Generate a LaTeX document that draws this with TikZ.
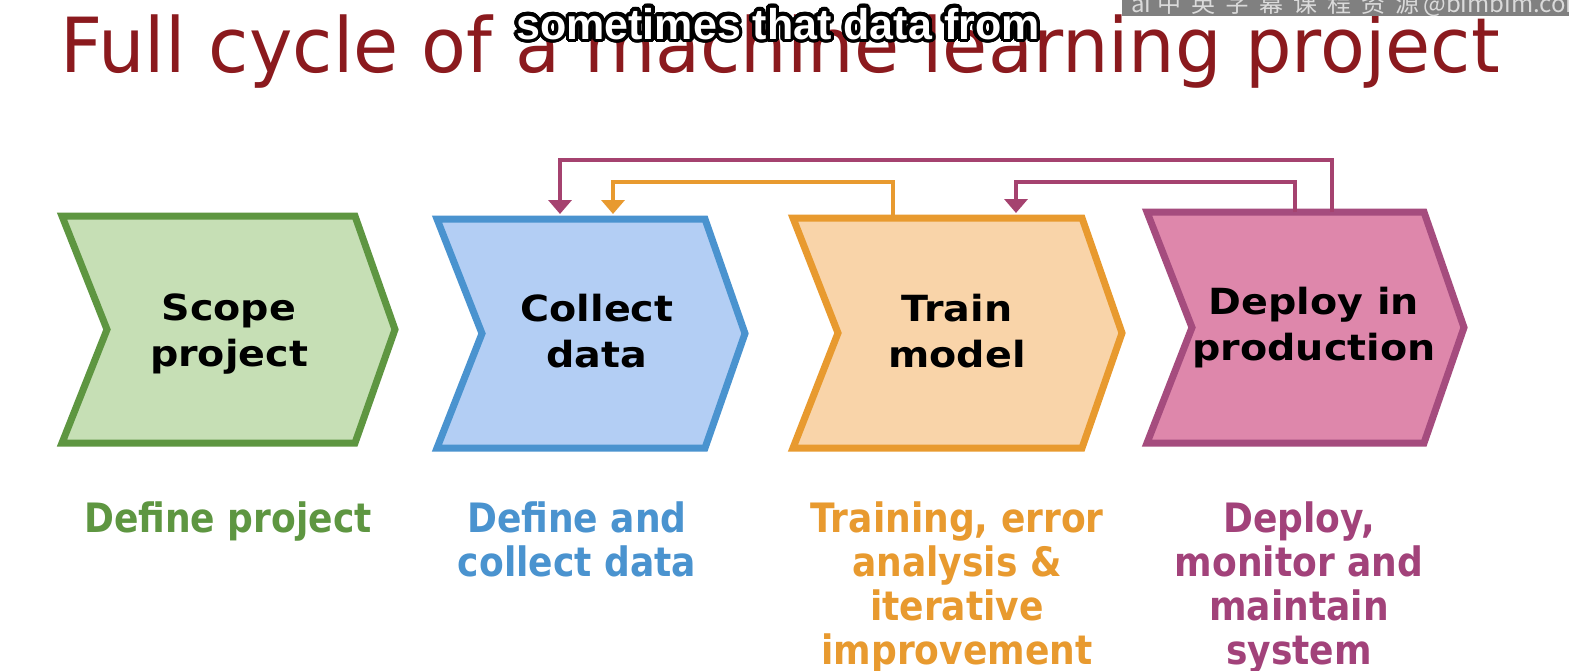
\documentclass[tikz,border=0pt]{standalone}
\usepackage{fontspec}
\usepackage{contour}
\setmainfont{DejaVu Sans}
\newfontfamily\titlefont{DejaVu Sans}[FakeStretch=0.965]
\newfontfamily\stagefont{DejaVu Sans}[FakeStretch=1.1]
\newfontfamily\notefont{DejaVu Sans}[FakeStretch=0.89]
\newfontfamily\capfont{Liberation Sans}
\newfontfamily\cjkfont{Noto Sans CJK SC}
\usetikzlibrary{arrows.meta,calc}

\definecolor{titlered}{HTML}{8B1A1E}
\definecolor{greenline}{HTML}{5E9641}
\definecolor{greenfill}{HTML}{C6DFB5}
\definecolor{blueline}{HTML}{4A93CF}
\definecolor{bluefill}{HTML}{B3CEF4}
\definecolor{orangeline}{HTML}{E89A2F}
\definecolor{orangefill}{HTML}{F9D4A9}
\definecolor{pinkline}{HTML}{A54C7E}
\definecolor{pinkfill}{HTML}{DE87AB}
\definecolor{loopcolor}{HTML}{A5426F}
\definecolor{notepink}{HTML}{A2427A}
\definecolor{barcolor}{HTML}{808080}
\definecolor{bartext}{HTML}{DADADA}

\contourlength{3.5pt}
\contournumber{32}

% wide gap between the CJK characters of the corner strip
\newcommand\gp{\hspace{10pt}}

% one chevron: #1 name, #2 left, #3 top, #4 right, #5 bottom, #6 fill, #7 line
\newcommand\chevron[7]{%
  \draw[stageline, draw=#7, fill=#6]
    (#2,#3) -- (#4,#3) -- ({#4+40},{(#3+#5)/2}) -- (#4,#5)
    -- (#2,#5) -- ({#2+45},{(#3+#5)/2}) -- cycle;
  \coordinate (#1) at ({(#2+#4)/2+20},{(#3+#5)/2});
}

\begin{document}
\begin{tikzpicture}[x=1pt,y=-1pt,
  stageline/.style={line width=7pt, line join=miter},
  loopline/.style={line width=4.5pt, draw=#1, line join=miter,
    -{Triangle[width=23pt,length=14pt]}},
  stagetext/.style={font=\stagefont\bfseries\fontsize{36}{46}\selectfont,
    align=center, anchor=base, inner sep=0pt, text=black},
  notetext/.style={font=\notefont\bfseries\fontsize{40.5}{44}\selectfont,
    align=center, anchor=base, inner sep=0pt, text=#1},
]
\useasboundingbox (0,0) rectangle (1569,670);
\fill[white] (0,0) rectangle (1569,670);

% heading
\node[anchor=base west, inner sep=0pt, text=titlered,
      font=\titlefont\fontsize{76}{76}\selectfont] (title) at (60,72)
  {Full cycle of a machine learning project};

% caption line laid over the heading
\node[anchor=base, inner sep=0pt,
      font=\capfont\bfseries\fontsize{43}{43}\selectfont] (caption) at (778,39)
  {\contour{black}{\textcolor{white}{sometimes that data from}}};

% grey strip in the top right corner
\fill[barcolor] (1122,0) rectangle (1569,16);
\begin{scope}
  \clip (1122,0) rectangle (1569,16);
  \node[anchor=base west, inner sep=0pt, text=bartext,
        font=\cjkfont\fontsize{24}{24}\selectfont] (strip) at (1131,12)
    {ai\hspace{6pt}中\gp 英\gp 字\gp 幕\gp 课\gp 程\gp 资\gp 源\hspace{4pt}@bimbim.com};
\end{scope}

% the four stages
\chevron{scope}{62}{216}{355}{443}{greenfill}{greenline}
\chevron{collect}{437}{219}{705}{448}{bluefill}{blueline}
\chevron{train}{793}{218}{1082}{448}{orangefill}{orangeline}
\chevron{deploy}{1147}{212}{1424}{443}{pinkfill}{pinkline}

% stage names (anchored at the baseline of their last line)
\node[stagetext] (scopetxt)   at (229,366)  {Scope\\project};
\node[stagetext] (collecttxt) at (597,367)  {Collect\\data};
\node[stagetext] (traintxt)   at (957,367)  {Train\\model};
\node[stagetext] (deploytxt)  at (1314,360) {Deploy in\\production};

% ends of the feedback loops
\coordinate (deployA) at (1332,212);
\coordinate (deployB) at (1295,212);
\coordinate (trainA)  at (893,218);
\coordinate (trainIn) at (1016,213);
\coordinate (collectA) at (560,214);
\coordinate (collectB) at (613,214);

\draw[loopline=loopcolor]  (deployA) -- (deployA |- 0,160) -| (collectA);
\draw[loopline=orangeline] (trainA) -- (trainA |- 0,182) -| (collectB);
\draw[loopline=loopcolor]  (deployB) -- (deployB |- 0,182) -| (trainIn);

% descriptions under the stages (anchored at the baseline of their last line)
\node[notetext=greenline]  (scopenote)   at (228,532) {Define project};
\node[notetext=blueline]   (collectnote) at (577,576) {Define and\\collect data};
\node[notetext=orangeline] (trainnote)   at (957,664) {Training, error\\analysis \&\\iterative\\improvement};
\node[notetext=notepink]   (deploynote)  at (1299,664) {Deploy,\\monitor and\\maintain\\system};
\end{tikzpicture}
\end{document}
